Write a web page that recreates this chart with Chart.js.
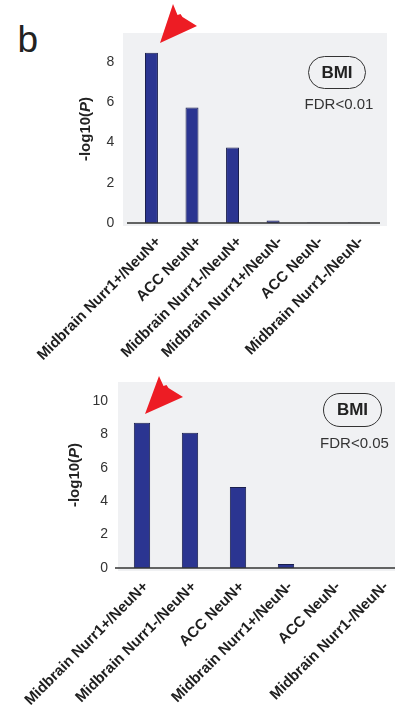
<!DOCTYPE html>
<html>
<head>
<meta charset="utf-8">
<script src="https://cdn.jsdelivr.net/npm/chart.js@4/dist/chart.umd.min.js"></script>
<style>
  html, body { margin: 0; padding: 0; background: #fff; width: 398px; height: 719px; overflow: hidden;
    font-family: "Liberation Sans", Arial, Helvetica, sans-serif; }
  .abs { position: absolute; }
  canvas { display: block; }
  #panel { left: 17.5px; top: 20.5px; font-size: 37px; line-height: 1; color: #222; }
  .pill { position: absolute; box-sizing: border-box; border: 1.3px solid #333; border-radius: 18px;
    font-weight: bold; font-size: 17px; color: #222; display: flex; align-items: center; justify-content: center; }
  .fdr { position: absolute; font-size: 15px; color: #333; transform: translate(-50%, -50%); white-space: nowrap; }
</style>
</head>
<body>
<div class="abs" id="panel">b</div>
<div class="abs" style="left:0;top:0"><canvas id="chartA" width="398" height="370"></canvas></div>
<div class="abs" style="left:0;top:360px"><canvas id="chartB" width="420" height="359"></canvas></div>

<div class="pill" style="left:308px;top:56px;width:58px;height:33px">BMI</div>
<div class="fdr" style="left:339px;top:103px">FDR&lt;0.01</div>
<div class="pill" style="left:323px;top:393px;width:59px;height:34px">BMI</div>
<div class="fdr" style="left:354.5px;top:442px">FDR&lt;0.05</div>

<svg class="abs" style="left:0;top:0" width="398" height="719">
  <polygon fill="#ed1c24" points="160,43 173,4 177.5,15 180.5,14 182.5,17 197,26"/>
  <polygon fill="#ed1c24" points="145,414 159,376 163.5,386 166.5,385 168.5,388 183,397"/>
</svg>

<script>
// Enrichment results for BMI, upper panel (FDR<0.01)
const categoriesA = ['Midbrain Nurr1+/NeuN+', 'ACC NeuN+', 'Midbrain Nurr1-/NeuN+',
                     'Midbrain Nurr1+/NeuN-', 'ACC NeuN-', 'Midbrain Nurr1-/NeuN-'];
const valuesA = [8.47, 5.74, 3.76, 0.12, 0.03, 0.03];
const yTicksA = [0, 2, 4, 6, 8];

// Lower panel (FDR<0.05)
const categoriesB = ['Midbrain Nurr1+/NeuN+', 'Midbrain Nurr1-/NeuN+', 'ACC NeuN+',
                     'Midbrain Nurr1+/NeuN-', 'ACC NeuN-', 'Midbrain Nurr1-/NeuN-'];
const valuesB = [8.70, 8.10, 4.85, 0.24, 0, 0];
const yTicksB = [0, 2, 4, 6, 8, 10];

const FONT = '"Liberation Sans", Arial, Helvetica, sans-serif';

// Grey panel behind the plot, the baseline, and the rotated axis title with an italic P
const panelDecor = {
  id: 'panelDecor',
  beforeDraw(chart, args, o) {
    const ctx = chart.ctx;
    ctx.save();
    ctx.fillStyle = '#f0f1f3';
    ctx.fillRect(o.bg[0], o.bg[1], o.bg[2] - o.bg[0], o.bg[3] - o.bg[1]);
    ctx.restore();
  },
  afterDatasetsDraw(chart, args, o) {
    const ctx = chart.ctx;
    const y0 = chart.scales.y.getPixelForValue(0);
    ctx.save();
    ctx.strokeStyle = '#333';
    ctx.lineWidth = 1.5;
    ctx.beginPath();
    ctx.moveTo(o.axis[0], y0);
    ctx.lineTo(o.axis[1], y0);
    ctx.stroke();

    const a = chart.chartArea;
    const cy = (a.top + a.bottom) / 2;
    const parts = [['-log10(', 'bold'], ['P', 'italic bold'], [')', 'bold']];
    let total = 0;
    const widths = parts.map(([t, s]) => { ctx.font = s + ' 15px ' + FONT; const w = ctx.measureText(t).width; total += w; return w; });
    ctx.translate(o.titleX, cy);
    ctx.rotate(-Math.PI / 2);
    ctx.fillStyle = '#222';
    ctx.textBaseline = 'middle';
    ctx.textAlign = 'left';
    let x = -total / 2;
    parts.forEach(([t, s], i) => { ctx.font = s + ' 15px ' + FONT; ctx.fillText(t, x, 0); x += widths[i]; });
    ctx.restore();
  }
};

function makeChart(id, labels, values, yTicks, g) {
  return new Chart(document.getElementById(id), {
    type: 'bar',
    data: {
      labels: labels,
      datasets: [{
        data: values,
        backgroundColor: '#2b3591',
        borderColor: '#1a1f4d',
        borderWidth: 1,
        borderSkipped: 'bottom',
        categoryPercentage: 1,
        barPercentage: g.bar
      }]
    },
    options: {
      responsive: false,
      animation: false,
      devicePixelRatio: 1,
      layout: { padding: { left: 0, right: g.padRight, top: g.top, bottom: 0 } },
      plugins: {
        legend: { display: false },
        tooltip: { enabled: false },
        panelDecor: { bg: g.bg, axis: g.axis, titleX: g.titleX }
      },
      scales: {
        x: {
          grid: { display: false },
          border: { display: false },
          ticks: {
            autoSkip: false, minRotation: 45, maxRotation: 45,
            color: '#1e1e1e', padding: g.xPad, labelOffset: g.xShift,
            font: { family: FONT, size: 15, weight: 'bold' }
          },
          afterFit(s) { s.height = g.xHeight; }
        },
        y: {
          min: 0, max: g.max,
          grid: { display: false },
          border: { display: false },
          ticks: { color: '#333', padding: g.yPad, font: { family: FONT, size: 14 } },
          afterBuildTicks(s) { s.ticks = yTicks.map(v => ({ value: v })); },
          afterFit(s) { s.width = g.left; }
        }
      }
    },
    plugins: [panelDecor]
  });
}

makeChart('chartA', categoriesA, valuesA, yTicksA, {
  left: 131.2, padRight: 23.6, top: 35, xHeight: 147, max: 9.35, bar: 0.32,
  bg: [123, 33, 387, 226], axis: [127, 380], titleX: 86, yPad: 9, xPad: 2, xShift: 7
});

makeChart('chartB', categoriesB, valuesB, yTicksB, {
  left: 118, padRight: 14, top: 22, xHeight: 151, max: 11.14, bar: 0.34,
  bg: [118, 22, 395, 211], axis: [115, 395], titleX: 75, yPad: 2, xPad: 2, xShift: 4
});
</script>
</body>
</html>
